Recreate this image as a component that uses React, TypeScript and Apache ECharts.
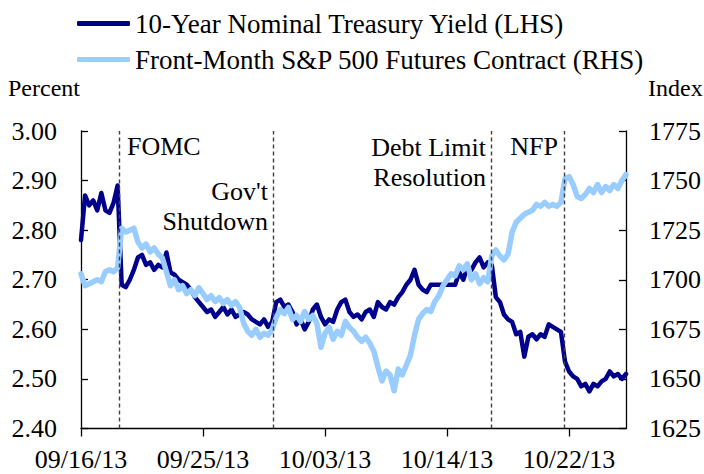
import React, { useEffect, useRef } from "react";
import * as echarts from "echarts";

// X positions are sample indices (intraday observations); tick labels every 30 samples
const tickLabels = ["09/16/13", "09/25/13", "10/03/13", "10/14/13", "10/22/13"];
const tickIdx = [0, 30, 60, 90, 120];
const lastIdx = 134;

const eventNames = ["FOMC", "Gov't\nShutdown", "Debt Limit\nResolution", "NFP"];
const eventIdx = [9.3, 47.3, 100.9, 118.7];

const seriesNames = [
  "10-Year Nominal Treasury Yield (LHS)",
  "Front-Month S&P 500 Futures Contract (RHS)",
];

const yield10 = [
  2.78, 2.87, 2.85, 2.86, 2.84, 2.875, 2.84, 2.835, 2.855, 2.89,
  2.69, 2.685, 2.70, 2.72, 2.745, 2.75, 2.73, 2.735, 2.72, 2.73,
  2.725, 2.755, 2.715, 2.71, 2.70, 2.695, 2.69, 2.68, 2.665, 2.655,
  2.645, 2.635, 2.64, 2.625, 2.635, 2.645, 2.63, 2.64, 2.625, 2.63,
  2.635, 2.63, 2.62, 2.615, 2.61, 2.62, 2.605, 2.615, 2.655, 2.66,
  2.645, 2.65, 2.635, 2.61, 2.62, 2.60, 2.615, 2.64, 2.65, 2.625,
  2.61, 2.62, 2.615, 2.64, 2.655, 2.66, 2.635, 2.625, 2.63, 2.62,
  2.635, 2.64, 2.625, 2.655, 2.645, 2.64, 2.655, 2.65, 2.665, 2.675,
  2.69, 2.70, 2.72, 2.69, 2.68, 2.675, 2.69, 2.69, 2.69, 2.69,
  2.69, 2.69, 2.69, 2.715, 2.70, 2.725, 2.72, 2.735, 2.745, 2.725,
  2.735, 2.73, 2.665, 2.655, 2.63, 2.62, 2.615, 2.59, 2.595, 2.545,
  2.585, 2.59, 2.58, 2.59, 2.585, 2.61, 2.605, 2.60, 2.595, 2.535,
  2.515, 2.505, 2.50, 2.485, 2.49, 2.475, 2.49, 2.485, 2.495, 2.50,
  2.515, 2.505, 2.51, 2.50, 2.51,
];

const spFutures = [
  1703, 1697, 1698, 1699, 1700, 1699, 1704, 1705, 1704, 1706,
  1726, 1724, 1725, 1726, 1719, 1716, 1718, 1714, 1716, 1713,
  1711, 1704, 1697, 1700, 1695, 1697, 1693, 1695, 1692, 1696,
  1693, 1690, 1692, 1689, 1691, 1688, 1690, 1687, 1689, 1686,
  1678, 1674, 1672, 1675, 1671, 1673, 1672, 1675, 1681, 1685,
  1683, 1686, 1680, 1682, 1679, 1684, 1680, 1682, 1678, 1666,
  1673, 1676, 1670, 1674, 1672, 1679, 1676, 1674, 1671, 1669,
  1671, 1668, 1664, 1656, 1649, 1654, 1652, 1644, 1655, 1652,
  1657, 1662, 1672, 1680, 1683, 1685, 1684, 1689, 1692, 1697,
  1700, 1703, 1702, 1707, 1705, 1708, 1700, 1703, 1698, 1701,
  1699, 1712, 1715, 1712, 1710, 1713, 1724, 1729, 1731, 1733,
  1734, 1735, 1738, 1737, 1739, 1737, 1738, 1737, 1739, 1751,
  1752, 1748, 1742, 1741, 1743, 1746, 1744, 1748, 1744, 1747,
  1745, 1748, 1746, 1750, 1753,
];

const FONT = '"Liberation Serif", "Times New Roman", serif';
const NAVY = "#00008C";
const LIGHT = "#99CCFF";

export default function App() {
  const ref = useRef<HTMLDivElement>(null);

  useEffect(() => {
    if (!ref.current) return;
    const chart = echarts.init(ref.current, undefined, { renderer: "svg" });

    const axisText = { color: "#000", fontSize: 26, fontFamily: FONT };

    const option: any = {
      animation: false,
      backgroundColor: "#fff",
      textStyle: { fontFamily: FONT },
      grid: { left: 81, right: 77, top: 131, bottom: 45.5, containLabel: false },
      legend: {
        orient: "vertical",
        left: 72,
        top: 5,
        itemWidth: 53,
        itemHeight: 5,
        itemGap: 9,
        icon: "roundRect",
        textStyle: { color: "#000", fontSize: 27, fontFamily: FONT, lineHeight: 27 },
        data: seriesNames,
        selectedMode: false,
      },
      xAxis: {
        type: "value",
        min: 0,
        max: lastIdx,
        splitLine: { show: false },
        axisLine: { show: true, onZero: false, lineStyle: { color: "#000", width: 1.3 } },
        axisTick: {
          show: true,
          inside: false,
          length: 8,
          customValues: tickIdx,
          lineStyle: { color: "#000", width: 1.3 },
        },
        axisLabel: {
          ...axisText,
          margin: 18,
          customValues: tickIdx,
          formatter: (v: number) => {
            const k = tickIdx.indexOf(Math.round(v));
            return k >= 0 ? tickLabels[k] : "";
          },
        },
      },
      yAxis: [
        {
          type: "value",
          min: 2.4,
          max: 3.0,
          interval: 0.1,
          position: "left",
          splitLine: { show: false },
          axisLine: { show: true, lineStyle: { color: "#000", width: 1.3 } },
          axisTick: { show: true, inside: true, length: 7, lineStyle: { color: "#000", width: 1.3 } },
          axisLabel: { ...axisText, margin: 24, formatter: (v: number) => v.toFixed(2) },
        },
        {
          type: "value",
          min: 1625,
          max: 1775,
          interval: 25,
          position: "right",
          splitLine: { show: false },
          axisLine: { show: true, lineStyle: { color: "#000", width: 1.3 } },
          axisTick: { show: true, inside: true, length: 7, lineStyle: { color: "#000", width: 1.3 } },
          axisLabel: { ...axisText, margin: 23, formatter: (v: number) => String(Math.round(v)) },
        },
      ],
      series: [
        {
          name: seriesNames[0],
          type: "line",
          yAxisIndex: 0,
          showSymbol: false,
          symbol: "none",
          color: NAVY,
          lineStyle: { color: NAVY, width: 4.5, join: "round", cap: "round" },
          data: yield10.map((v, i) => [i, v]),
          markLine: {
            silent: true,
            symbol: ["none", "none"],
            label: { show: false },
            lineStyle: { color: "#404040", width: 1.4, type: [4, 3] },
            data: eventIdx.map((x) => ({ xAxis: x })),
          },
          z: 2,
        },
        {
          name: seriesNames[1],
          type: "line",
          yAxisIndex: 1,
          showSymbol: false,
          symbol: "none",
          color: LIGHT,
          lineStyle: { color: LIGHT, width: 5.5, join: "round", cap: "round" },
          data: spFutures.map((v, i) => [i, v]),
          z: 3,
        },
      ],
      graphic: [
        { type: "text", left: 8, top: 76, style: { text: "Percent", font: `24px ${FONT}`, fill: "#000" } },
        { type: "text", left: 648, top: 76, style: { text: "Index", font: `24px ${FONT}`, fill: "#000" } },
        {
          type: "text", x: 127, y: 146,
          style: { text: eventNames[0], font: `26px ${FONT}`, fill: "#000", align: "left", verticalAlign: "middle" },
        },
        {
          type: "text", x: 268, y: 206,
          style: { text: eventNames[1], font: `26px ${FONT}`, fill: "#000", align: "right", verticalAlign: "middle", lineHeight: 30 },
        },
        {
          type: "text", x: 486, y: 162,
          style: { text: eventNames[2], font: `26px ${FONT}`, fill: "#000", align: "right", verticalAlign: "middle", lineHeight: 30 },
        },
        {
          type: "text", x: 558, y: 146,
          style: { text: eventNames[3], font: `26px ${FONT}`, fill: "#000", align: "right", verticalAlign: "middle" },
        },
      ],
    };

    chart.setOption(option);
    return () => chart.dispose();
  }, []);

  return (
    <div
      ref={ref}
      style={{ position: "absolute", left: 0, top: 0, width: 704, height: 474 }}
    />
  );
}
